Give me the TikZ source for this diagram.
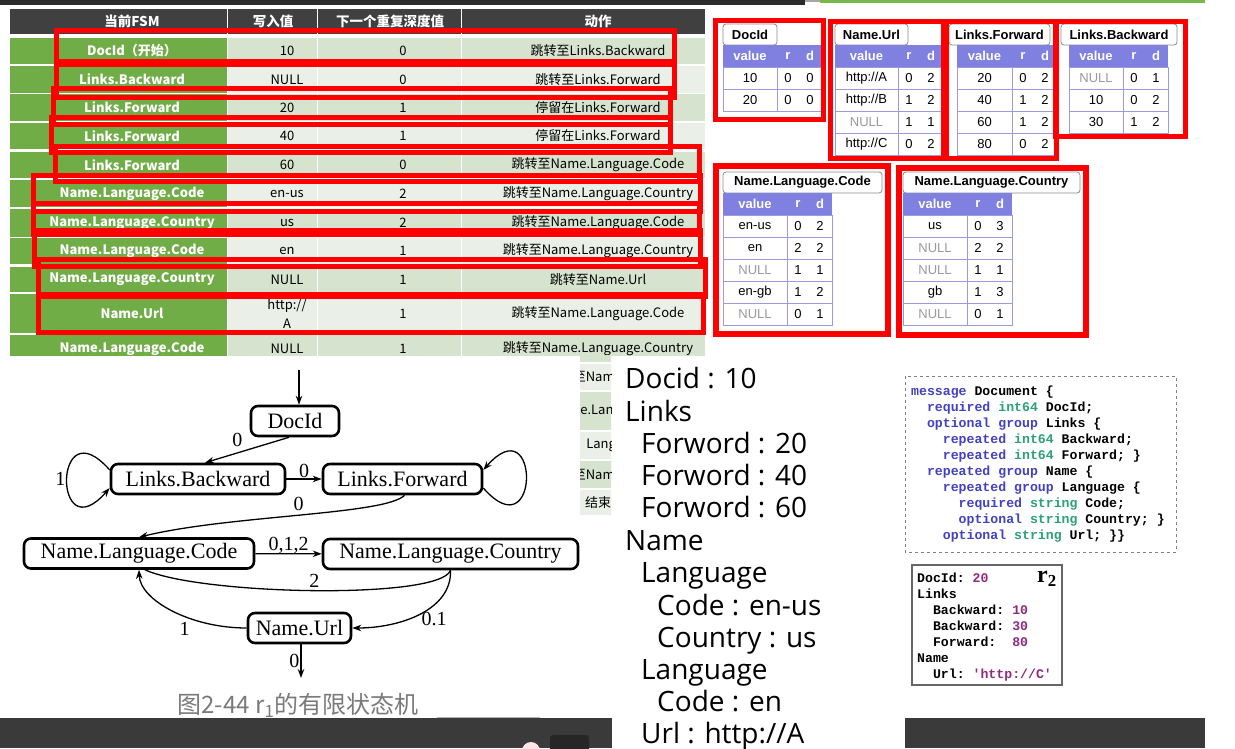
\documentclass[tikz,border=0pt]{standalone}
\usepackage{fontspec}
\setmainfont{Liberation Serif}
\setmonofont{Liberation Mono}
\newfontfamily\cjk{Noto Sans CJK SC}
\newfontfamily\uifont{Open Sans}
\newfontfamily\arialfont{Liberation Sans}
\usetikzlibrary{arrows.meta,positioning}

\definecolor{topbar}{HTML}{2B2B2B}
\definecolor{topgreen}{HTML}{78B84A}
\definecolor{headgray}{HTML}{404040}
\definecolor{fsmgreen}{HTML}{70AD47}
\definecolor{cellA}{HTML}{D6E4CF}
\definecolor{cellB}{HTML}{EAF0E7}
\definecolor{markred}{HTML}{FF0000}
\definecolor{colhead}{HTML}{7F80E0}
\definecolor{colline}{HTML}{9A9ADF}
\definecolor{nullgray}{HTML}{9A9A9A}
\definecolor{tabedge}{HTML}{8C8C8C}
\definecolor{kwblue}{HTML}{4141C2}
\definecolor{typegreen}{HTML}{2BA079}
\definecolor{numpurple}{HTML}{8E2B7E}
\definecolor{capgray}{HTML}{7A7A7A}
\definecolor{playerbar}{HTML}{3A3A3A}

% colours of the schema listing
\newcommand{\kwd}[1]{\textcolor{kwblue}{#1}}
\newcommand{\typ}[1]{\textcolor{typegreen}{#1}}
\newcommand{\numv}[1]{\textcolor{numpurple}{#1}}

% column-stripe table (value / r / d)
% #1 name, #2-#3 tab left/right, #4 header left, #5 value|r rule, #6 header top, #7 title, #8 rows
\newcommand{\rdtable}[8]{%
  \draw[tabbox] (#2,#6) rectangle (#3,#6-21);
  \node[tabtitle] (#1title) at ({(#2+#3)/2},#6-10.5) {#7};
  \fill[colhead] (#4,#6) rectangle (#5+45,#6+22);
  \node[colhdr] (#1hv) at ({(#4+#5)/2},#6+11) {value};
  \node[colhdr] (#1hr) at (#5+11,#6+11) {r};
  \node[colhdr] (#1hd) at (#5+33,#6+11) {d};
  \foreach \cv/\cr/\cd/\cc [count=\k] in {#8} {
    \draw[colrule] (#4,#6+22*\k) rectangle (#5,#6+22*\k+22);
    \draw[colrule] (#5,#6+22*\k) rectangle (#5+45,#6+22*\k+22);
    \node[colcell, text=\cc] (#1v\k) at ({(#4+#5)/2},#6+22*\k+11) {\cv};
    \node[colcell] (#1r\k) at (#5+11,#6+22*\k+11) {\cr};
    \node[colcell] (#1d\k) at (#5+33,#6+22*\k+11) {\cd};
  }%
}

\begin{document}
\begin{tikzpicture}[
    x=1pt, y=-1pt,
    redbox/.style={draw=markred, line width=5pt},
    thead/.style={text=white, inner sep=0pt, font=\cjk\bfseries\fontsize{13.5}{15}\selectfont},
    tcell/.style={inner sep=0pt, align=center, font=\cjk\fontsize{13}{19}\selectfont},
    tfsm/.style={tcell, text=white, font=\cjk\bfseries\fontsize{13}{15}\selectfont},
    tabbox/.style={draw=tabedge, fill=white, line width=0.8pt, rounded corners=3pt},
    tabtitle/.style={inner sep=0pt, font=\arialfont\bfseries\fontsize{13}{15}\selectfont},
    colhdr/.style={text=white, inner sep=0pt, font=\arialfont\bfseries\fontsize{13}{15}\selectfont},
    colcell/.style={inner sep=0pt, font=\arialfont\fontsize{13}{15}\selectfont},
    colrule/.style={draw=colline, line width=0.8pt},
    state/.style={draw, fill=white, line width=2.6pt, rounded corners=7pt,
        minimum height=30pt, inner xsep=3pt, inner ysep=0pt,
        font=\fontsize{22}{24}\selectfont},
    fsmline/.style={line width=1.3pt},
    fsmarrow/.style={fsmline, -{Stealth[length=9pt, width=6.5pt]}},
    edgelbl/.style={inner sep=1pt, font=\fontsize{20}{22}\selectfont},
    recline/.style={anchor=base west, inner sep=0pt, font=\uifont\fontsize{28}{30}\selectfont},
    codetext/.style={anchor=north west, inner sep=0pt, align=left,
        font=\ttfamily\bfseries\fontsize{13.2}{16}\selectfont}
]

\useasboundingbox (0,0) rectangle (1235,748);
\fill[white] (0,0) rectangle (1235,748);

% ============================================
% BARRAS DEL REPRODUCTOR
% ============================================
\fill[topbar] (0,0) rectangle (805,5);
\fill[gray!70] (805,0) rectangle (820,2);
\fill[topgreen] (820,0) rectangle (1205,3);

% ============================================
% TABLA DE TRANSICIONES (FSM)
% ============================================
\begin{scope}
\clip (10,0) rectangle (705,355);

% cabecera
\foreach \xa/\xb in {10/227, 228/317, 318/461, 462/705}
    \fill[headgray] (\xa,9) rectangle (\xb,34);
\node[thead] (hd1) at (132,21.5) {当前FSM};
\node[thead] (hd2) at (273,21.5) {写入值};
\node[thead] (hd3) at (390,21.5) {下一个重复深度值};
\node[thead] (hd4) at (598,21.5) {动作};

% filas
\foreach \ya/\yb/\fsmtxt/\valtxt/\deptxt/\acttxt/\rowcol [count=\i] in {
    38/64/DocId（开始）/10/0/跳转至Links.Backward/cellA,
    66/93/Links.Backward/NULL/0/跳转至Links.Forward/cellB,
    94/121/Links.Forward/20/1/停留在Links.Forward/cellA,
    123/149/Links.Forward/40/1/停留在Links.Forward/cellB,
    152/178/Links.Forward/60/0/跳转至Name.Language.Code/cellA,
    180/207/Name.Language.Code/en-us/2/跳转至Name.Language.Country/cellB,
    209/237/Name.Language.Country/us/2/跳转至Name.Language.Code/cellA,
    238/264/Name.Language.Code/en/1/跳转至Name.Language.Country/cellB,
    267/292/Name.Language.Country/NULL/1/跳转至Name.Url/cellA,
    294/333/Name.Url/{http://\\A}/1/跳转至Name.Language.Code/cellB,
    335/362/Name.Language.Code/NULL/1/跳转至Name.Language.Country/cellA} {
  \fill[fsmgreen] (10,\ya) rectangle (227,\yb);
  \fill[\rowcol] (228,\ya) rectangle (317,\yb);
  \fill[\rowcol] (318,\ya) rectangle (461,\yb);
  \fill[\rowcol] (462,\ya) rectangle (705,\yb);
  \node[tfsm] (fsm\i) at (132,{(\ya+\yb)/2}) {\fsmtxt};
  \node[tcell] (val\i) at (287,{(\ya+\yb)/2}) {\valtxt};
  \node[tcell] (dep\i) at (403,{(\ya+\yb)/2}) {\deptxt};
  \node[tcell] (act\i) at (598,{(\ya+\yb)/2}) {\acttxt};
}
\end{scope}

% marcas rojas sobre las filas
\draw[redbox] (56,30) rectangle (674,64);
\draw[redbox] (56,61) rectangle (674,97);
\draw[redbox] (53,88) rectangle (670,124);
\draw[redbox] (51,117) rectangle (670,152);
\draw[redbox] (55,146) rectangle (699,181);
\draw[redbox] (33,175) rectangle (700,211);
\draw[redbox] (33,203) rectangle (699,234);
\draw[redbox] (34,230) rectangle (700,266);
\draw[redbox] (38,259) rectangle (705,296);
\draw[redbox] (38,294) rectangle (703,332);

% ============================================
% COLUMNAS (value / r / d)
% ============================================
\rdtable{docid}{723}{777}{723}{777}{45}{DocId}{10/0/0/black, 20/0/0/black}
\rdtable{url}{835}{908}{835}{898}{45}{Name.Url}{{http://A}/0/2/black, {http://B}/1/2/black, NULL/1/1/nullgray, {http://C}/0/2/black}
\rdtable{fwd}{949}{1050}{957}{1012}{45}{Links.Forward}{20/0/2/black, 40/1/2/black, 60/1/2/black, 80/0/2/black}
\rdtable{bwd}{1061}{1177}{1069}{1123}{45}{Links.Backward}{NULL/0/1/nullgray, 10/0/2/black, 30/1/2/black}
\rdtable{code}{723}{882}{723}{787}{193}{Name.Language.Code}{en-us/0/2/black, en/2/2/black, NULL/1/1/nullgray, en-gb/1/2/black, NULL/0/1/nullgray}
\rdtable{ctry}{903}{1080}{903}{967}{193}{Name.Language.Country}{us/0/3/black, NULL/2/2/nullgray, NULL/1/1/nullgray, gb/1/3/black, NULL/0/1/nullgray}

\draw[redbox] (715,20) rectangle (823,119);
\draw[redbox] (830,21) rectangle (943,158);
\draw[redbox] (946,21) rectangle (1056,158);
\draw[redbox] (1055,21) rectangle (1185,136);
\draw[redbox, line width=6pt] (716,166) rectangle (888,334);
\draw[redbox, line width=6pt] (899,168) rectangle (1086,335);

% ============================================
% RESTO DE LA TABLA (tapado por el registro)
% ============================================
\begin{scope}
\clip (580,355) rectangle (611,520);
\foreach \ya/\yb/\acttxt/\xe [count=\i] in {
    364/390/至Name/622,
    392/430/e.Lang/621,
    432/459/Langu/624,
    461/488/至Name/622} {
  \fill[\ifodd\i cellB\else cellA\fi] (462,\ya) rectangle (705,\yb);
  \node[tcell, anchor=east] (rest\i) at (\xe,{(\ya+\yb)/2}) {\acttxt};
}
\fill[cellA] (462,355) rectangle (705,362);
\fill[cellB] (462,490) rectangle (705,515);
\node[tcell] (restend) at (598,502.5) {结束};
\end{scope}

% ============================================
% REGISTRO r1
% ============================================
\node[recline] (rec1) at (625,388) {Docid : 10};
\node[recline] (rec2) at (625,421) {Links};
\node[recline] (rec3) at (641,453) {Forword : 20};
\node[recline] (rec4) at (641,485) {Forword : 40};
\node[recline] (rec5) at (641,517) {Forword : 60};
\node[recline] (rec6) at (625,550) {Name};
\node[recline] (rec7) at (641,582) {Language};
\node[recline] (rec8) at (657,615) {Code : en-us};
\node[recline] (rec9) at (657,647) {Country : us};
\node[recline] (rec10) at (641,679) {Language};
\node[recline] (rec11) at (657,711) {Code : en};
\node[recline] (rec12) at (641,743) {Url : http://A};

% ============================================
% AUTÓMATA FINITO DE r1
% ============================================
\node[state, minimum width=88pt] (docid) at (295,421) {DocId};
\node[state, minimum width=174pt] (linksb) at (198,479) {Links.Backward};
\node[state, minimum width=159pt] (linksf) at (402.5,479) {Links.Forward};
\node[state, minimum width=230pt] (langcode) at (139,553.5) {Name.Language.Code};
\node[state, minimum width=255pt] (langcountry) at (450.5,554) {Name.Language.Country};
\node[state, minimum width=103pt] (nameurl) at (299.5,628) {Name.Url};

\coordinate (fsmstart) at (299,370);
\coordinate (fsmend) at (301,678);

\draw[fsmarrow] (fsmstart) -- (fsmstart |- docid.north);
\draw[fsmarrow] ([xshift=-6pt]docid.south) -- ([xshift=7pt]linksb.north)
    node[edgelbl, midway, above left=2pt and 3pt] {0};
\draw[fsmarrow] ([yshift=9pt]linksb.west) .. controls +(-57,-65) and +(-57,65) .. ([yshift=-9pt]linksb.west)
    node[edgelbl, pos=0.5, left] {1};
\draw[fsmarrow] (linksb) -- (linksf) node[edgelbl, midway, above] {0};
\draw[fsmarrow] ([yshift=-9pt]linksf.east) .. controls +(57,65) and +(57,-65) .. ([yshift=9pt]linksf.east);
\draw[fsmarrow] ([xshift=2pt]linksf.south) .. controls (385,515) and (230,515) .. (langcode.north)
    node[edgelbl, pos=0.5, above=3pt] {0};
\draw[fsmarrow] (langcode) -- (langcountry) node[edgelbl, midway, above=-1pt] {0,1,2};
\draw[fsmline] (langcountry.south) .. controls (440,600) and (200,595) .. ([xshift=6pt]langcode.south)
    node[edgelbl, pos=0.5, above=1pt] {2};
\draw[fsmarrow] (langcountry.south) .. controls (452,610) and (400,628) .. (nameurl.east)
    node[edgelbl, pos=0.6, right=12pt] {0.1};
\draw[fsmarrow] (nameurl.west) .. controls (190,628) and (140,600) .. (langcode.south)
    node[edgelbl, pos=0.4, below=4pt] {1};
\draw[fsmarrow] (nameurl.south -| fsmend) -- (fsmend) node[edgelbl, midway, left] {0};

\node[inner sep=0pt, text=capgray, font=\cjk\fontsize{24}{26}\selectfont] (caption) at (298,705)
    {图2-44 r\textsubscript{1}的有限状态机};

% ============================================
% ESQUEMA Y REGISTRO r2
% ============================================
\draw[gray, dashed, line width=0.8pt] (905,376) rectangle (1176,552);
\node[codetext] (schema) at (911,386) {%
\kwd{message} Document \{\\
~~\kwd{required} \typ{int64} DocId;\\
~~\kwd{optional group} Links \{\\
~~~~\kwd{repeated} \typ{int64} Backward;\\
~~~~\kwd{repeated} \typ{int64} Forward; \}\\
~~\kwd{repeated group} Name \{\\
~~~~\kwd{repeated group} Language \{\\
~~~~~~\kwd{required} \typ{string} Code;\\
~~~~~~\kwd{optional} \typ{string} Country; \}\\
~~~~\kwd{optional} \typ{string} Url; \}\}};

\draw[gray!80!black, line width=1.2pt] (912,565) rectangle (1062,685);
\node[codetext] (rtwotext) at (917,573) {%
DocId: \numv{20}\\
Links\\
~~Backward: \numv{10}\\
~~Backward: \numv{30}\\
~~Forward:~~\numv{80}\\
Name\\
~~Url: \numv{'http://C'}};
\node[inner sep=0pt, font=\bfseries\fontsize{24}{26}\selectfont] (rtwo) at (1047,579) {r\textsubscript{2}};

% ============================================
% BARRA INFERIOR
% ============================================
\fill[playerbar] (0,718) rectangle (612,748);
\fill[playerbar] (905,718) rectangle (1205,748);
\fill[gray!60] (437,716.5) rectangle (540,718);
\fill[red!10!white] (531,751) circle (9);
\fill[black!85, rounded corners=3pt] (550,735) rectangle (589,752);

\end{tikzpicture}
\end{document}
